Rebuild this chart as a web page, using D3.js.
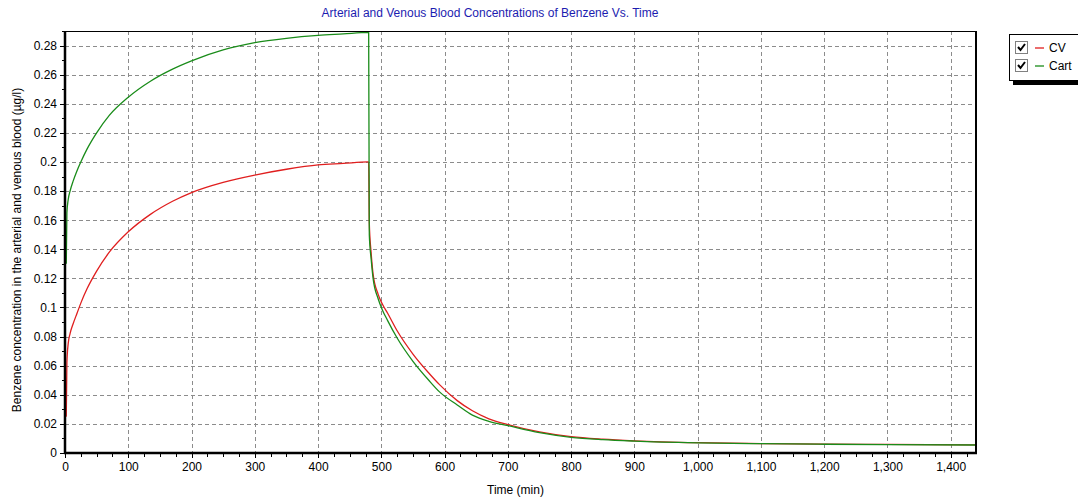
<!DOCTYPE html>
<html lang="en">
<head>
    <meta charset="UTF-8">
    <title>Arterial and Venous Blood Concentrations of Benzene Vs. Time</title>
    <style>
        body {
            margin: 0;
            background: #ffffff;
            overflow: hidden;
            font-family: "Liberation Sans", Arial, sans-serif;
        }
        svg { display: block; }
        .grid line {
            stroke: #8c8c8c;
            stroke-dasharray: 4,3;
            shape-rendering: crispEdges;
        }
        .axis text {
            font-size: 12px;
            fill: #000;
        }
        .axis line, .axis path {
            stroke: #000;
            shape-rendering: crispEdges;
        }
        .series {
            fill: none;
            stroke-width: 1.3px;
        }
    </style>
</head>
<body>
    <svg id="chart"></svg>

    <script src="https://d3js.org/d3.v7.min.js"></script>
    <script>
        // time in minutes, shared by both series
        const time = [2, 3, 5, 8, 13, 19, 25, 35, 50, 70, 100, 135, 170, 200, 250, 300, 350, 400, 440, 479,
                      480, 481, 484, 487, 495, 502, 510, 525, 550, 575, 592, 620, 644, 670, 700, 750, 800, 850, 900,
                      1000, 1100, 1200, 1300, 1440];
        // venous blood (CV)
        const cv = [0.025, 0.062, 0.075, 0.082, 0.089, 0.096, 0.103, 0.113, 0.125, 0.138, 0.152, 0.164, 0.173,
                    0.179, 0.186, 0.191, 0.195, 0.198, 0.199, 0.2,
                    0.2, 0.158, 0.137, 0.123, 0.109, 0.102, 0.096, 0.084, 0.068, 0.055, 0.047, 0.036, 0.029, 0.0235,
                    0.0195, 0.0145, 0.0112, 0.0095, 0.0084, 0.0071, 0.0065, 0.0061, 0.0059, 0.0056];
        // arterial blood (Cart)
        const cart = [0.13, 0.165, 0.174, 0.18, 0.187, 0.194, 0.2, 0.209, 0.22, 0.232, 0.2445, 0.2555, 0.2638,
                      0.2695, 0.277, 0.282, 0.285, 0.287, 0.288, 0.289,
                      0.289, 0.15, 0.133, 0.12, 0.106, 0.098, 0.091, 0.079, 0.063, 0.05, 0.042, 0.033, 0.026, 0.0218,
                      0.0188, 0.014, 0.0108, 0.0092, 0.0082, 0.007, 0.0064, 0.006, 0.0057, 0.0055];

        const xTicks = [0, 100, 200, 300, 400, 500, 600, 700, 800, 900, 1000, 1100, 1200, 1300, 1400];
        const yTicks = [0, 0.02, 0.04, 0.06, 0.08, 0.1, 0.12, 0.14, 0.16, 0.18, 0.2, 0.22, 0.24, 0.26, 0.28];
        const seriesNames = ["CV", "Cart"];
        const seriesColours = ["#e01e1e", "#1a8c1a"];

        const W = 1078, H = 501;
        const margin = { top: 31, right: 102, bottom: 48, left: 65 },
              width = W - margin.left - margin.right,
              height = H - margin.top - margin.bottom;

        const root = d3.select("#chart").attr("width", W).attr("height", H);
        const svg = root.append("g")
            .attr("transform", `translate(${margin.left},${margin.top})`);

        const x = d3.scaleLinear().domain([0, 1440]).range([0, width]);
        const y = d3.scaleLinear().domain([0, 0.29]).range([height, 0]);

        // grid
        svg.append("g").attr("class", "grid")
            .selectAll("line").data(xTicks.filter(d => d > 0)).enter().append("line")
            .attr("x1", d => Math.round(x(d)) + 0.5).attr("x2", d => Math.round(x(d)) + 0.5)
            .attr("y1", 0).attr("y2", height);
        svg.append("g").attr("class", "grid")
            .selectAll("line").data(yTicks.filter(d => d > 0)).enter().append("line")
            .attr("y1", d => Math.round(y(d)) + 0.5).attr("y2", d => Math.round(y(d)) + 0.5)
            .attr("x1", 0).attr("x2", width);

        // minor ticks
        svg.append("g").attr("class", "axis")
            .attr("transform", `translate(0,${height})`)
            .call(d3.axisBottom(x).tickValues(d3.range(0, 1441, 25)).tickSize(4).tickFormat(""))
            .select(".domain").remove();
        svg.append("g").attr("class", "axis")
            .call(d3.axisLeft(y).tickValues(d3.range(0, 0.2901, 0.01)).tickSize(3).tickFormat(""))
            .select(".domain").remove();

        // major axes
        svg.append("g").attr("class", "axis")
            .attr("transform", `translate(0,${height})`)
            .call(d3.axisBottom(x).tickValues(xTicks).tickSize(5).tickSizeOuter(0).tickPadding(4)
                .tickFormat(d3.format(",")))
            .select(".domain").remove();
        svg.append("g").attr("class", "axis")
            .call(d3.axisLeft(y).tickValues(yTicks).tickSize(5).tickSizeOuter(0).tickPadding(3)
                .tickFormat(d => String(+d.toFixed(2))))
            .select(".domain").remove();

        // series
        const line = vals => d3.line()
            .x((d, i) => x(time[i]))
            .y(d => y(d))
            .curve(d3.curveMonotoneX)(vals);

        svg.append("path").attr("class", "series")
            .attr("d", line(cv)).attr("stroke", seriesColours[0]);
        svg.append("path").attr("class", "series")
            .attr("d", line(cart)).attr("stroke", seriesColours[1]);

        // frame
        svg.append("line").attr("x1", 0).attr("x2", width).attr("y1", 0.5).attr("y2", 0.5)
            .attr("stroke", "#000").attr("stroke-width", 1);
        svg.append("line").attr("x1", width).attr("x2", width).attr("y1", 0).attr("y2", height)
            .attr("stroke", "#000").attr("stroke-width", 2);
        svg.append("line").attr("x1", 0).attr("x2", 0).attr("y1", 0).attr("y2", height + 1)
            .attr("stroke", "#000").attr("stroke-width", 2.5);
        svg.append("line").attr("x1", -1).attr("x2", width + 1).attr("y1", height).attr("y2", height)
            .attr("stroke", "#000").attr("stroke-width", 2.5);

        // title and axis labels
        root.append("text")
            .attr("x", 490).attr("y", 17)
            .attr("text-anchor", "middle")
            .style("font-size", "12px")
            .style("fill", "#1c1cb0")
            .text("Arterial and Venous Blood Concentrations of Benzene Vs. Time");

        root.append("text")
            .attr("x", margin.left + width / 2 - 5).attr("y", 494)
            .attr("text-anchor", "middle")
            .style("font-size", "12px")
            .text("Time (min)");

        root.append("text")
            .attr("transform", `translate(21,${margin.top + height / 2 + 8}) rotate(-90)`)
            .attr("text-anchor", "middle")
            .style("font-size", "12px")
            .text("Benzene concentration in the arterial and venous blood (\u00b5g/l)");

        // legend
        const legend = root.append("g").attr("transform", "translate(1009,34)");
        legend.append("rect").attr("x", 4).attr("y", 4).attr("width", 80).attr("height", 47)
            .attr("fill", "#000");
        legend.append("rect").attr("x", 0.5).attr("y", 0.5).attr("width", 80).attr("height", 46)
            .attr("fill", "#fff").attr("stroke", "#000");

        seriesNames.forEach((name, i) => {
            const g = legend.append("g").attr("transform", `translate(6,${7 + i * 18})`);
            g.append("rect").attr("x", 0.5).attr("y", 0.5).attr("width", 12).attr("height", 12)
                .attr("fill", "#fff").attr("stroke", "#808080");
            g.append("path").attr("d", "M3,6 L5.5,9 L10,3")
                .attr("fill", "none").attr("stroke", "#000").attr("stroke-width", 2);
            g.append("line").attr("x1", 20).attr("x2", 29).attr("y1", 7).attr("y2", 7)
                .attr("stroke", seriesColours[i]).attr("stroke-width", 1.3);
            g.append("text").attr("x", 34).attr("y", 11)
                .style("font-size", "12px")
                .text(name);
        });
    </script>
</body>
</html>
